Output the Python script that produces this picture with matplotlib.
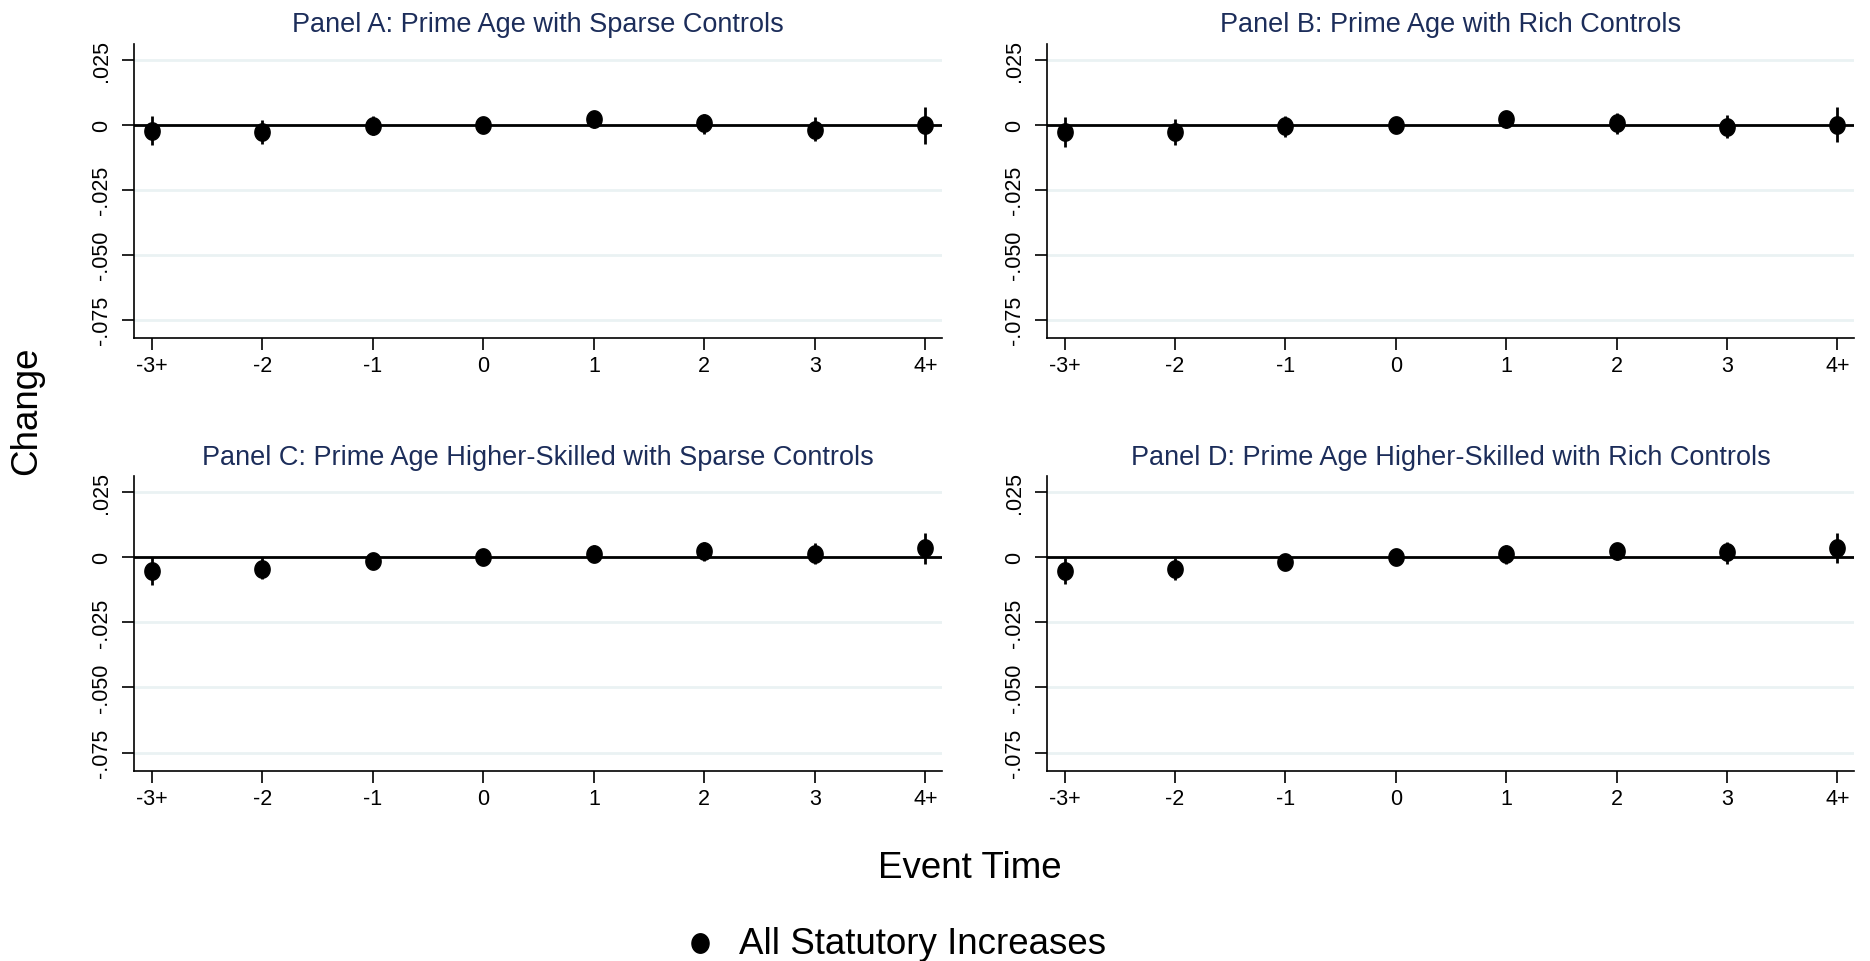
import numpy as np
import matplotlib as mpl
import matplotlib.pyplot as plt
from matplotlib.path import Path

mpl.rcParams['font.family'] = ['Liberation Sans', 'DejaVu Sans']

event_labels = ['-3+', '-2', '-1', '0', '1', '2', '3', '4+']

titles = ['Panel A: Prime Age with Sparse Controls',
          'Panel B: Prime Age with Rich Controls',
          'Panel C: Prime Age Higher-Skilled with Sparse Controls',
          'Panel D: Prime Age Higher-Skilled with Rich Controls']

# point estimates and 95% CI bounds
est_a = [-0.0023, -0.0028, -0.0004, 0.0, 0.0023, 0.0005, -0.0019, 0.0]
lo_a = [-0.0077, -0.0073, -0.0038, 0.0, -0.0013, -0.0035, -0.0064, -0.0073]
hi_a = [0.0032, 0.0017, 0.0032, 0.0, 0.0051, 0.0042, 0.0028, 0.0068]

est_b = [-0.0030, -0.0028, -0.0006, 0.0, 0.0023, 0.0005, -0.0008, 0.0]
lo_b = [-0.0084, -0.0077, -0.0049, 0.0, -0.0013, -0.0035, -0.0052, -0.0068]
hi_b = [0.0028, 0.0022, 0.0032, 0.0, 0.0052, 0.0043, 0.0036, 0.0068]

est_c = [-0.0055, -0.0045, -0.0017, 0.0, 0.0013, 0.0023, 0.0013, 0.0035]
lo_c = [-0.0106, -0.0083, -0.0038, 0.0, -0.0019, -0.0017, -0.0026, -0.0026]
hi_c = [0.0000, 0.0000, 0.0006, 0.0, 0.0045, 0.0058, 0.0054, 0.0090]

est_d = [-0.0054, -0.0047, -0.0019, 0.0, 0.0010, 0.0022, 0.0017, 0.0033]
lo_d = [-0.0103, -0.0087, -0.0045, 0.0, -0.0026, -0.0013, -0.0026, -0.0023]
hi_d = [-0.0003, -0.0003, 0.0013, 0.0, 0.0045, 0.0055, 0.0058, 0.0090]

panels = [(est_a, lo_a, hi_a), (est_b, lo_b, hi_b),
          (est_c, lo_c, hi_c), (est_d, lo_d, hi_d)]

yticks = [0.025, 0, -0.025, -0.05, -0.075]
ytick_labels = ['.025', '0', '-.025', '-.050', '-.075']

# slightly tall ellipse, like the stretched Stata markers
t = np.linspace(0, 2 * np.pi, 60)
ell = Path(np.column_stack([0.88 * np.cos(t), np.sin(t)]), closed=True)

fig = plt.figure(figsize=(18.7, 9.62), dpi=100, facecolor='white')

W, H = 1870, 962
boxes = [(134, 45, 942, 339), (1047, 45, 1854, 339),
         (134, 477, 942, 772), (1047, 477, 1854, 772)]

x = np.arange(len(event_labels))
for (l, t_, r, b), title, (est, lo, hi) in zip(boxes, titles, panels):
    ax = fig.add_axes([l / W, 1 - b / H, (r - l) / W, (b - t_) / H])
    est = np.array(est)
    lo = np.array(lo)
    hi = np.array(hi)
    for yt in yticks:
        ax.axhline(yt, color='#eaf2f3', lw=2, zorder=0)
    ax.axhline(0, color='black', lw=2, zorder=2)
    ax.vlines(x, lo, hi, color='black', lw=2, zorder=3)
    ax.plot(x, est, ls='none', marker=ell, ms=12.5, color='black', zorder=4)
    ax.set_xlim(-0.16, 7.15)
    ax.set_ylim(-0.082, 0.031)
    ax.set_xticks(x)
    ax.set_xticklabels(event_labels, fontsize=15.5)
    ax.set_yticks(yticks)
    ax.set_yticklabels(ytick_labels, fontsize=15.5, rotation=90, va='center')
    ax.tick_params(direction='out', length=8.5, width=1.2, colors='black')
    ax.tick_params(axis='y', pad=7)
    ax.tick_params(axis='x', pad=3.5)
    for s in ['top', 'right']:
        ax.spines[s].set_visible(False)
    for s in ['left', 'bottom']:
        ax.spines[s].set_linewidth(1.2)
    ax.set_title(title, fontsize=19.5, color='#1c2d5a', pad=9)

fig.text(27 / W, 1 - 411 / H, 'Change', rotation=90, fontsize=26.5,
         ha='center', va='center')
fig.text(970 / W, 1 - 868 / H, 'Event Time', fontsize=26.5,
         ha='center', va='center')
fig.text(739 / W, 1 - 945 / H, 'All Statutory Increases', fontsize=26.5,
         ha='left', va='center')
fig.add_artist(plt.Line2D([700 / W], [1 - 944 / H], marker=ell,
                          ms=14, color='black', ls='none',
                          transform=fig.transFigure))

fig.savefig('out.png', dpi=100, facecolor='white')
